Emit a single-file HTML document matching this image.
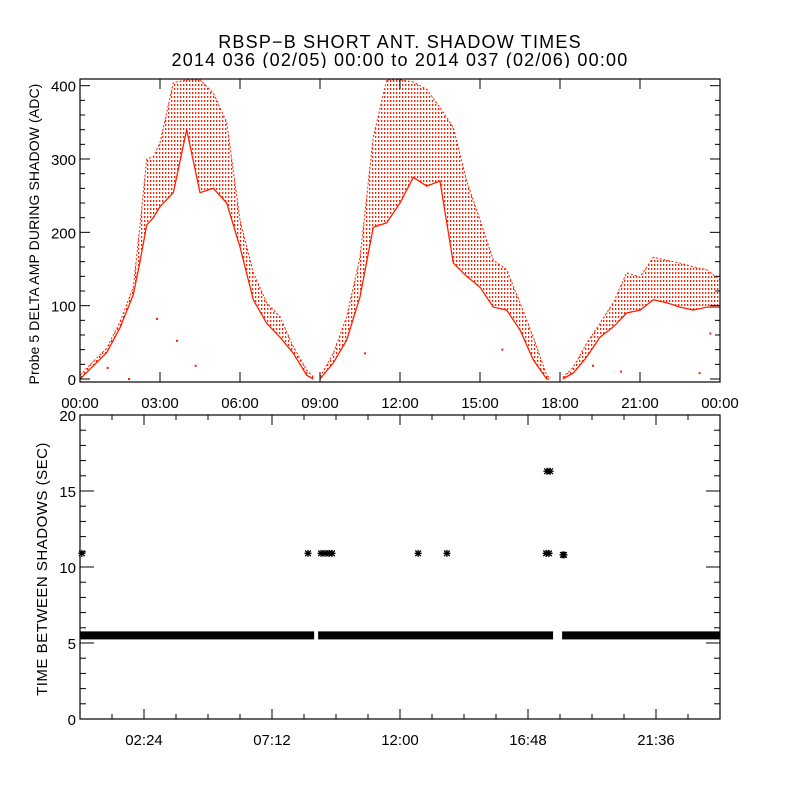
<!DOCTYPE html>
<html><head><meta charset="utf-8"><style>
html,body{margin:0;padding:0;background:#fff;}
svg{display:block;font-family:"Liberation Sans",sans-serif;}
</style></head><body>
<svg id="chart" width="800" height="800" viewBox="0 0 800 800">
<defs>
<pattern id="dots" width="3" height="4" patternUnits="userSpaceOnUse"><rect x="0" y="0" width="1.3" height="2" fill="#ff2000"/></pattern>
</defs>
<text x="400" y="48" text-anchor="middle" font-size="18" letter-spacing="1.2">RBSP−B SHORT ANT. SHADOW TIMES</text>
<text x="400" y="66" text-anchor="middle" font-size="18" letter-spacing="1.2">2014 036 (02/05) 00:00 to 2014 037 (02/06) 00:00</text>
<g id="topPanel"></g>
<g id="botPanel"></g>
<text transform="translate(39,234) rotate(-90)" text-anchor="middle" font-size="14" letter-spacing="0.1">Probe 5 DELTA AMP DURING SHADOW (ADC)</text>
<text transform="translate(47,569) rotate(-90)" text-anchor="middle" font-size="15" letter-spacing="0.5">TIME BETWEEN SHADOWS (SEC)</text>
</svg>
<script>
// top panel data (hours, low/high amplitude envelope)
const ampTimes = [0,0.5,1,1.5,2,2.25,2.5,2.75,3,3.5,4,4.5,5,5.5,6,6.5,7,7.5,8,8.5,8.75,null,9,9.5,10,10.5,11,11.5,12,12.5,13,13.5,14,14.5,15,15.5,16,16.5,17,17.5,17.6,null,18.1,18.5,19,19.5,20,20.5,21,21.5,22,22.5,23,23.5,24];
const ampLow  = [0,18,36,70,115,160,210,220,235,254,340,254,260,240,180,108,76,57,35,5,0,null,0,22,53,112,207,213,240,275,263,270,158,140,125,98,94,67,26,0,0,null,0,8,30,57,71,90,94,108,104,98,94,98,98];
const ampHigh = [5,24,42,78,125,210,300,303,322,404,408,408,390,350,217,145,104,85,44,12,3,null,3,35,85,166,330,408,408,405,395,370,343,270,217,162,149,104,57,5,2,null,2,16,49,76,104,145,139,166,162,158,153,149,135];
const outlierT = [1.0,1.8,2.85,3.6,4.3,10.65,15.8,19.2,20.25,23.2,23.6];
const outlierV = [15,0,82,52,18,35,40,18,10,8,62];
// bottom panel data
const runStart = [0,8.93,18.08];
const runEnd   = [8.78,17.74,24];
const runValue = [5.5,5.5,5.5];
const starT = [0.07,8.55,9.04,9.19,9.34,9.45,12.68,13.76,17.48,17.59,18.11,18.15,17.51,17.63];
const starV = [10.9,10.9,10.9,10.9,10.9,10.9,10.9,10.9,10.9,10.9,10.8,10.8,16.3,16.3];
const topTicks = ["00:00","03:00","06:00","09:00","12:00","15:00","18:00","21:00","00:00"];
const topYTicks = [0,100,200,300,400];
const botXTicks = ["02:24","07:12","12:00","16:48","21:36"];
const botYTicks = [0,5,10,15,20];

const NS="http://www.w3.org/2000/svg";
function mk(tag,attrs,parent){const e=document.createElementNS(NS,tag);for(const k in attrs)e.setAttribute(k,attrs[k]);parent.appendChild(e);return e;}
const L=80,R=720;
const xS=h=>L+(h/24)*(R-L);
// top
const T0=79,T1=382, yT=v=>379-v*0.7333;
const topG=document.getElementById('topPanel');
let segs=[],cur=[];
ampTimes.forEach((t,i)=>{if(t===null){if(cur.length)segs.push(cur);cur=[];}else cur.push(i);});
if(cur.length)segs.push(cur);
segs.forEach(s=>{
  const up=s.map(i=>xS(ampTimes[i]).toFixed(1)+','+yT(ampHigh[i]).toFixed(1));
  const dn=s.slice().reverse().map(i=>xS(ampTimes[i]).toFixed(1)+','+yT(ampLow[i]).toFixed(1));
  const p=mk('polygon',{points:up.concat(dn).join(' '),fill:'url(#dots)'},topG);
  
  
  const lo=mk('polyline',{points:s.map(i=>xS(ampTimes[i]).toFixed(1)+','+yT(ampLow[i]).toFixed(1)).join(' '),fill:'none',stroke:'#ff2000','stroke-width':1.3},topG);
  
  
  const hi=mk('polyline',{points:s.map(i=>xS(ampTimes[i]).toFixed(1)+','+yT(ampHigh[i]).toFixed(1)).join(' '),fill:'none',stroke:'#ff2000','stroke-width':1,'stroke-dasharray':'2 2'},topG);
  
  
});
outlierT.forEach((t,i)=>{
  const r=mk('rect',{x:xS(t),y:yT(outlierV[i])-1,width:2,height:2,fill:'#ff2000'},topG);
  
  
});
mk('rect',{x:L,y:68,width:R-L,height:T0-68+0.5,fill:'#fff'},topG);
mk('rect',{x:L,y:T0,width:R-L,height:T1-T0,fill:'none',stroke:'#000','stroke-width':1.2},topG);
topTicks.forEach((lab,i)=>{
  const xx=L+i*80;
  mk('line',{x1:xx,y1:T1,x2:xx,y2:T1-10,stroke:'#000'},topG);
  mk('line',{x1:xx,y1:T0,x2:xx,y2:T0+10,stroke:'#000'},topG);
  const t=mk('text',{x:xx,y:408,'text-anchor':'middle','font-size':15},topG);
  t.textContent=lab;
  
  
});
for(let v=0;v<=400;v+=20){
  const yy=yT(v),len=v%100===0?10:5;
  mk('line',{x1:L,y1:yy,x2:L+len,y2:yy,stroke:'#000'},topG);
  mk('line',{x1:R,y1:yy,x2:R-len,y2:yy,stroke:'#000'},topG);
}
topYTicks.forEach(v=>{
  const t=mk('text',{x:76,y:yT(v)+6,'text-anchor':'end','font-size':15},topG);
  t.textContent=v;
  
  
});
// bottom
const B0=415,B1=719,yB=v=>B1-v*(B1-B0)/20;
const botG=document.getElementById('botPanel');
runStart.forEach((s,i)=>{
  const r=mk('rect',{x:xS(s),y:yB(runValue[i])-4,width:xS(runEnd[i])-xS(s),height:8,fill:'#000'},botG);
  
  
});
starT.forEach((t,i)=>{
  const cx=xS(t),cy=yB(starV[i]);
  const g=mk('path',{d:`M${cx-3.5},${cy}h7M${cx},${cy-3.5}v7M${cx-2.8},${cy-2.8}l5.6,5.6M${cx-2.8},${cy+2.8}l5.6,-5.6`,stroke:'#000','stroke-width':1.3},botG);
  
  
});
mk('rect',{x:L,y:B0,width:R-L,height:B1-B0,fill:'none',stroke:'#000','stroke-width':1.2},botG);
for(let k=1;k<20;k++){
  const xx=L+k*32,len=(k%4===2)?10:5;
  mk('line',{x1:xx,y1:B1,x2:xx,y2:B1-len,stroke:'#000'},botG);
  mk('line',{x1:xx,y1:B0,x2:xx,y2:B0+len,stroke:'#000'},botG);
}
botXTicks.forEach((lab,i)=>{
  const t=mk('text',{x:144+i*128,y:745,'text-anchor':'middle','font-size':15},botG);
  t.textContent=lab;
  
  
});
for(let v=0;v<=20;v++){
  const yy=yB(v),len=v%5===0?14:6;
  mk('line',{x1:L,y1:yy,x2:L+len,y2:yy,stroke:'#000'},botG);
  mk('line',{x1:R,y1:yy,x2:R-len,y2:yy,stroke:'#000'},botG);
}
botYTicks.forEach(v=>{
  const t=mk('text',{x:76,y:yB(v)+6,'text-anchor':'end','font-size':15},botG);
  t.textContent=v;
  
  
});
</script>
</body></html>
